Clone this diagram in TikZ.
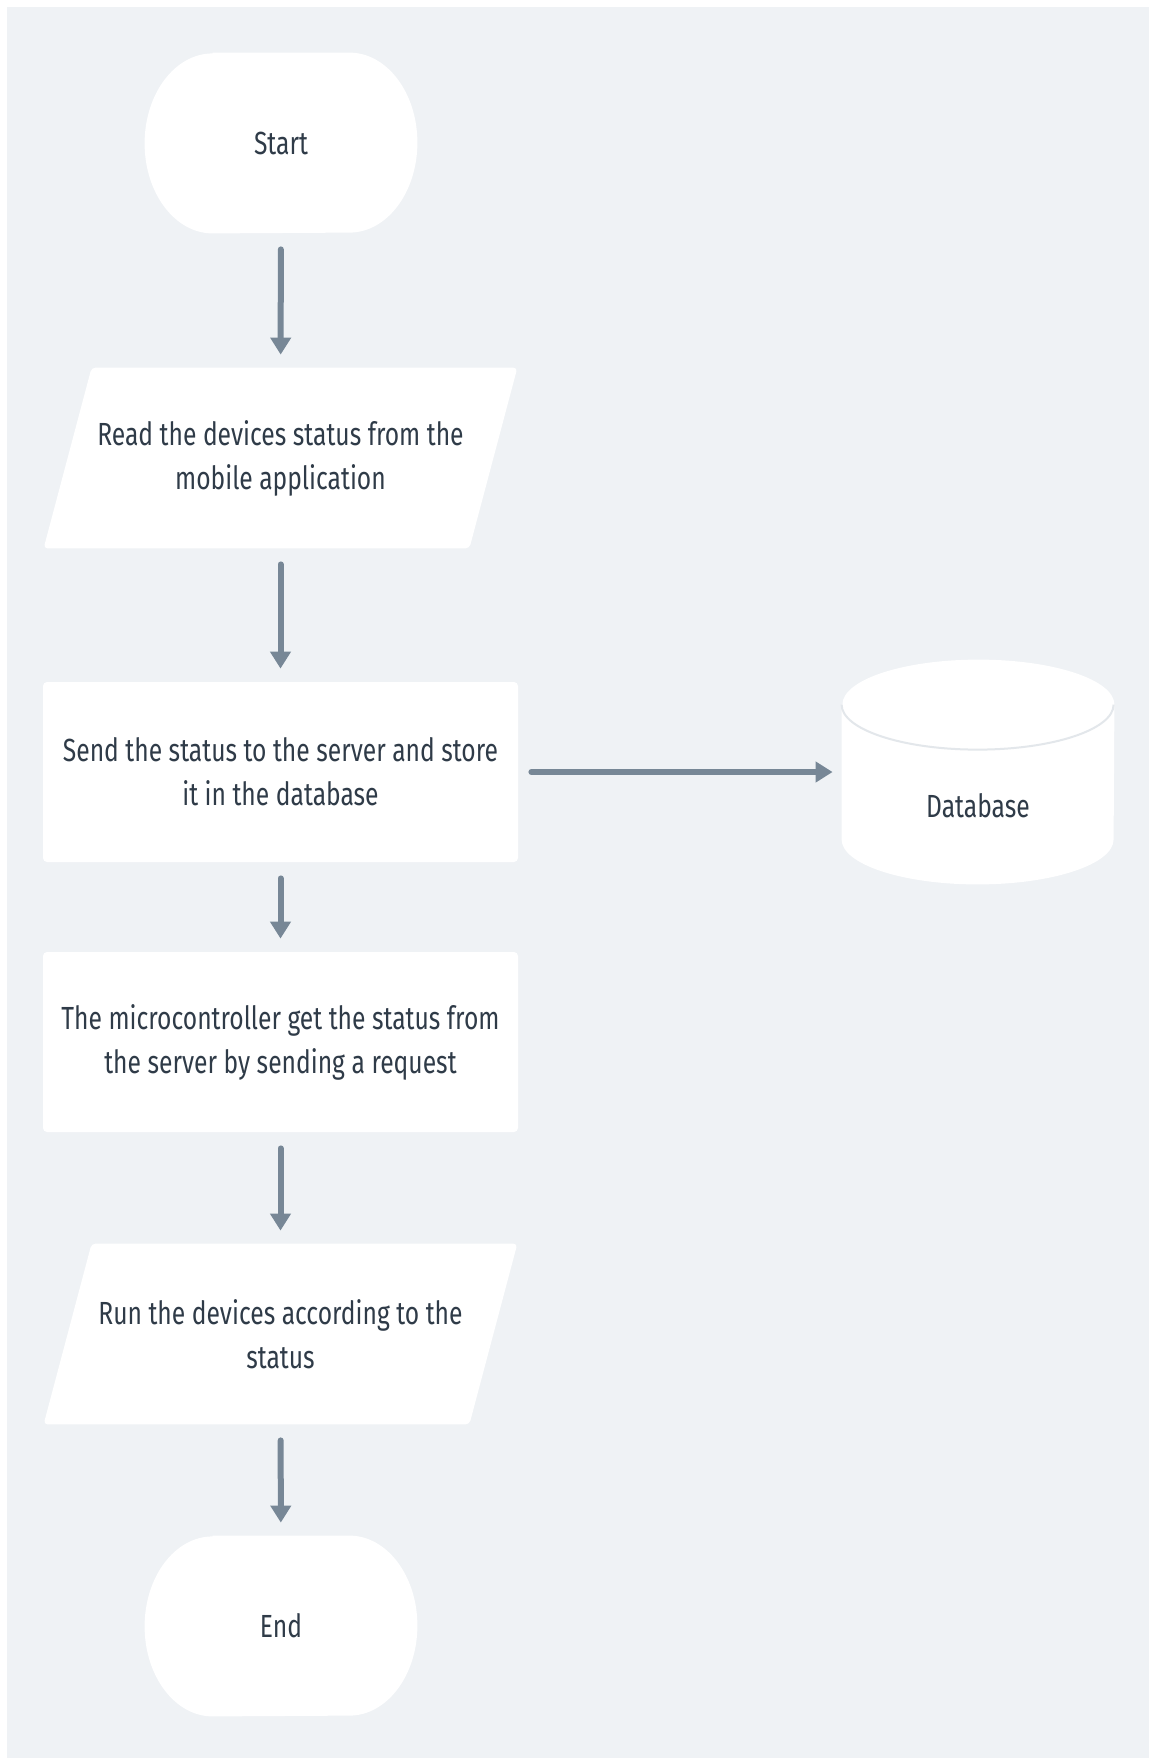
\documentclass[tikz,border=0pt]{standalone}
\usepackage{fontspec}
\setmainfont{Fira Sans}[FakeStretch=0.77]
\usetikzlibrary{arrows.meta,backgrounds}
\definecolor{canvas}{HTML}{EFF2F5}
\definecolor{flowtext}{HTML}{2F3B48}
\definecolor{flowarrow}{HTML}{778796}
\definecolor{dbrim}{HTML}{E3E7EB}
\begin{document}
\begin{tikzpicture}[x=0.5pt,y=-0.5pt,
  box text/.style={text=flowtext,font=\fontsize{16}{22}\selectfont,align=center},
  terminal/.style={box text,minimum width=136pt,minimum height=90pt,inner sep=0pt},
  io box/.style={box text,minimum width=212.5pt,minimum height=90pt,inner sep=0pt},
  proc box/.style={box text,rectangle,fill=white,rounded corners=2pt,minimum width=237.5pt,minimum height=90pt,inner sep=0pt},
  db node/.style={minimum width=136pt,minimum height=112pt,inner sep=0pt},
  flow/.style={draw=flowarrow,line width=3pt,line cap=round,-{Triangle[width=10pt,length=8.5pt]},shorten <=8pt,shorten >=6.5pt}]
  \useasboundingbox (0,0) rectangle (1149,1758);

  \node[terminal] (start) at (281,143) {Start};
  \node[io box] (readapp) at (280.5,458) {Read the devices status from the\\mobile application};
  \node[proc box] (sendsrv) at (280.5,772) {Send the status to the server and store\\it in the database};
  \node[proc box] (mcuget) at (280.5,1042) {The microcontroller get the status from\\the server by sending a request};
  \node[io box] (rundev) at (280.5,1334) {Run the devices according to the\\status};
  \node[terminal] (stop) at (281,1626) {End};
  \node[db node,label={[box text,yshift=-17pt]center:Database}] (db) at (978,772) {};

  \draw[flow] (start) -- (readapp);
  \draw[flow] (readapp) -- (sendsrv);
  \draw[flow] (sendsrv) -- (mcuget);
  \draw[flow] (mcuget) -- (rundev);
  \draw[flow] (rundev) -- (stop);
  \draw[flow,shorten <=6.5pt,shorten >=4.5pt] (sendsrv) -- (db);

  \begin{scope}[on background layer]
    \fill[canvas] (7,7) rectangle (1149,1758);
    \foreach \n in {start,stop}
      \fill[white] ([xshift=34pt]\n.north west) -- ([xshift=-34pt]\n.north east)
        arc[start angle=90,end angle=-90,x radius=34pt,y radius=45pt]
        -- ([xshift=34pt]\n.south west)
        arc[start angle=270,end angle=90,x radius=34pt,y radius=45pt] -- cycle;
    \foreach \n in {readapp,rundev}
      \fill[white,rounded corners=2pt] ([xshift=12pt]\n.north west) -- ([xshift=12pt]\n.north east)
        -- ([xshift=-12pt]\n.south east) -- ([xshift=-12pt]\n.south west) -- cycle;
    \fill[white] ([yshift=-22.5pt]db.north west) -- ([yshift=22.5pt]db.south west)
      arc[start angle=180,end angle=360,x radius=68pt,y radius=22.5pt]
      -- ([yshift=-22.5pt]db.north east)
      arc[start angle=0,end angle=180,x radius=68pt,y radius=22.5pt] -- cycle;
    \draw[dbrim,line width=1pt] ([yshift=-22.5pt]db.north west)
      arc[start angle=180,end angle=360,x radius=68pt,y radius=22.5pt];
  \end{scope}
\end{tikzpicture}
\end{document}
